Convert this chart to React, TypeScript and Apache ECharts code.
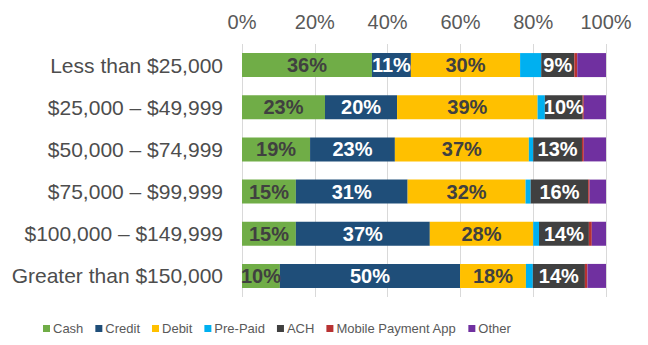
import React, { useEffect, useRef } from "react";
import * as echarts from "echarts";

const categories = [
  "Less than $25,000",
  "$25,000 – $49,999",
  "$50,000 – $74,999",
  "$75,000 – $99,999",
  "$100,000 – $149,999",
  "Greater than $150,000",
];
const cash = [35.7, 22.8, 18.7, 14.8, 14.8, 10.4];
const credit = [10.7, 19.8, 23.3, 30.7, 36.8, 49.5];
const debit = [30.0, 38.6, 36.8, 32.4, 28.4, 18.1];
const prePaid = [5.8, 2.0, 1.2, 1.4, 1.6, 1.9];
const ach = [9.1, 10.4, 13.4, 15.8, 13.7, 14.3];
const mobile = [0.8, 0.3, 0.5, 0.4, 0.8, 0.7];
const other = [7.9, 6.1, 6.1, 4.5, 3.9, 5.1];
const xTicks = [0, 20, 40, 60, 80, 100];

const seriesDefs = [
  { name: "Cash", data: cash, color: "#70AD47", label: true, labelColor: "#404040" },
  { name: "Credit", data: credit, color: "#1F4E79", label: true, labelColor: "#FFFFFF" },
  { name: "Debit", data: debit, color: "#FFC000", label: true, labelColor: "#404040" },
  { name: "Pre-Paid", data: prePaid, color: "#00B0F0", label: false, labelColor: "#404040" },
  { name: "ACH", data: ach, color: "#404040", label: true, labelColor: "#FFFFFF" },
  { name: "Mobile Payment App", data: mobile, color: "#B83232", label: false, labelColor: "#404040" },
  { name: "Other", data: other, color: "#7030A0", label: false, labelColor: "#404040" },
];

const FONT = "'Liberation Sans', Arial, sans-serif";

export default function App() {
  const ref = useRef<HTMLDivElement>(null);
  useEffect(() => {
    if (!ref.current) return;
    const chart = echarts.init(ref.current, null, { renderer: "svg" });
    chart.setOption({
      animation: false,
      backgroundColor: "#ffffff",
      grid: { left: 242, right: 42, top: 44, bottom: 48 },
      legend: {
        left: 38,
        top: 317,
        itemWidth: 7,
        itemHeight: 7,
        itemGap: 12,
        icon: "rect",
        textStyle: {
          fontFamily: FONT,
          fontSize: 13,
          color: "#595959",
          padding: [0, 0, 0, -2],
        },
        data: seriesDefs.map((s) => s.name),
      },
      xAxis: {
        type: "value",
        position: "top",
        min: xTicks[0],
        max: xTicks[xTicks.length - 1],
        interval: 20,
        axisLine: { show: false },
        axisTick: { show: false },
        axisLabel: {
          formatter: "{value}%",
          fontFamily: FONT,
          fontSize: 20,
          color: "#595959",
          margin: 12,
        },
        splitLine: { show: true, lineStyle: { color: "#D9D9D9", width: 1 } },
      },
      yAxis: {
        type: "category",
        data: categories,
        inverse: true,
        axisLine: { show: false },
        axisTick: { show: false },
        axisLabel: {
          fontFamily: FONT,
          fontSize: 21,
          color: "#4D4D4D",
          margin: 19,
        },
      },
      series: seriesDefs.map((s) => ({
        name: s.name,
        type: "bar",
        stack: "total",
        barWidth: 24,
        data: s.data,
        itemStyle: { color: s.color },
        label: {
          show: s.label,
          position: "inside",
          formatter: (p: any) => Math.round(p.value) + "%",
          fontFamily: FONT,
          fontSize: 20,
          fontWeight: "bold",
          color: s.labelColor,
        },
      })),
    });
    return () => chart.dispose();
  }, []);
  return (
    <div
      ref={ref}
      style={{ position: "fixed", left: 0, top: 0, width: 648, height: 345 }}
    />
  );
}
